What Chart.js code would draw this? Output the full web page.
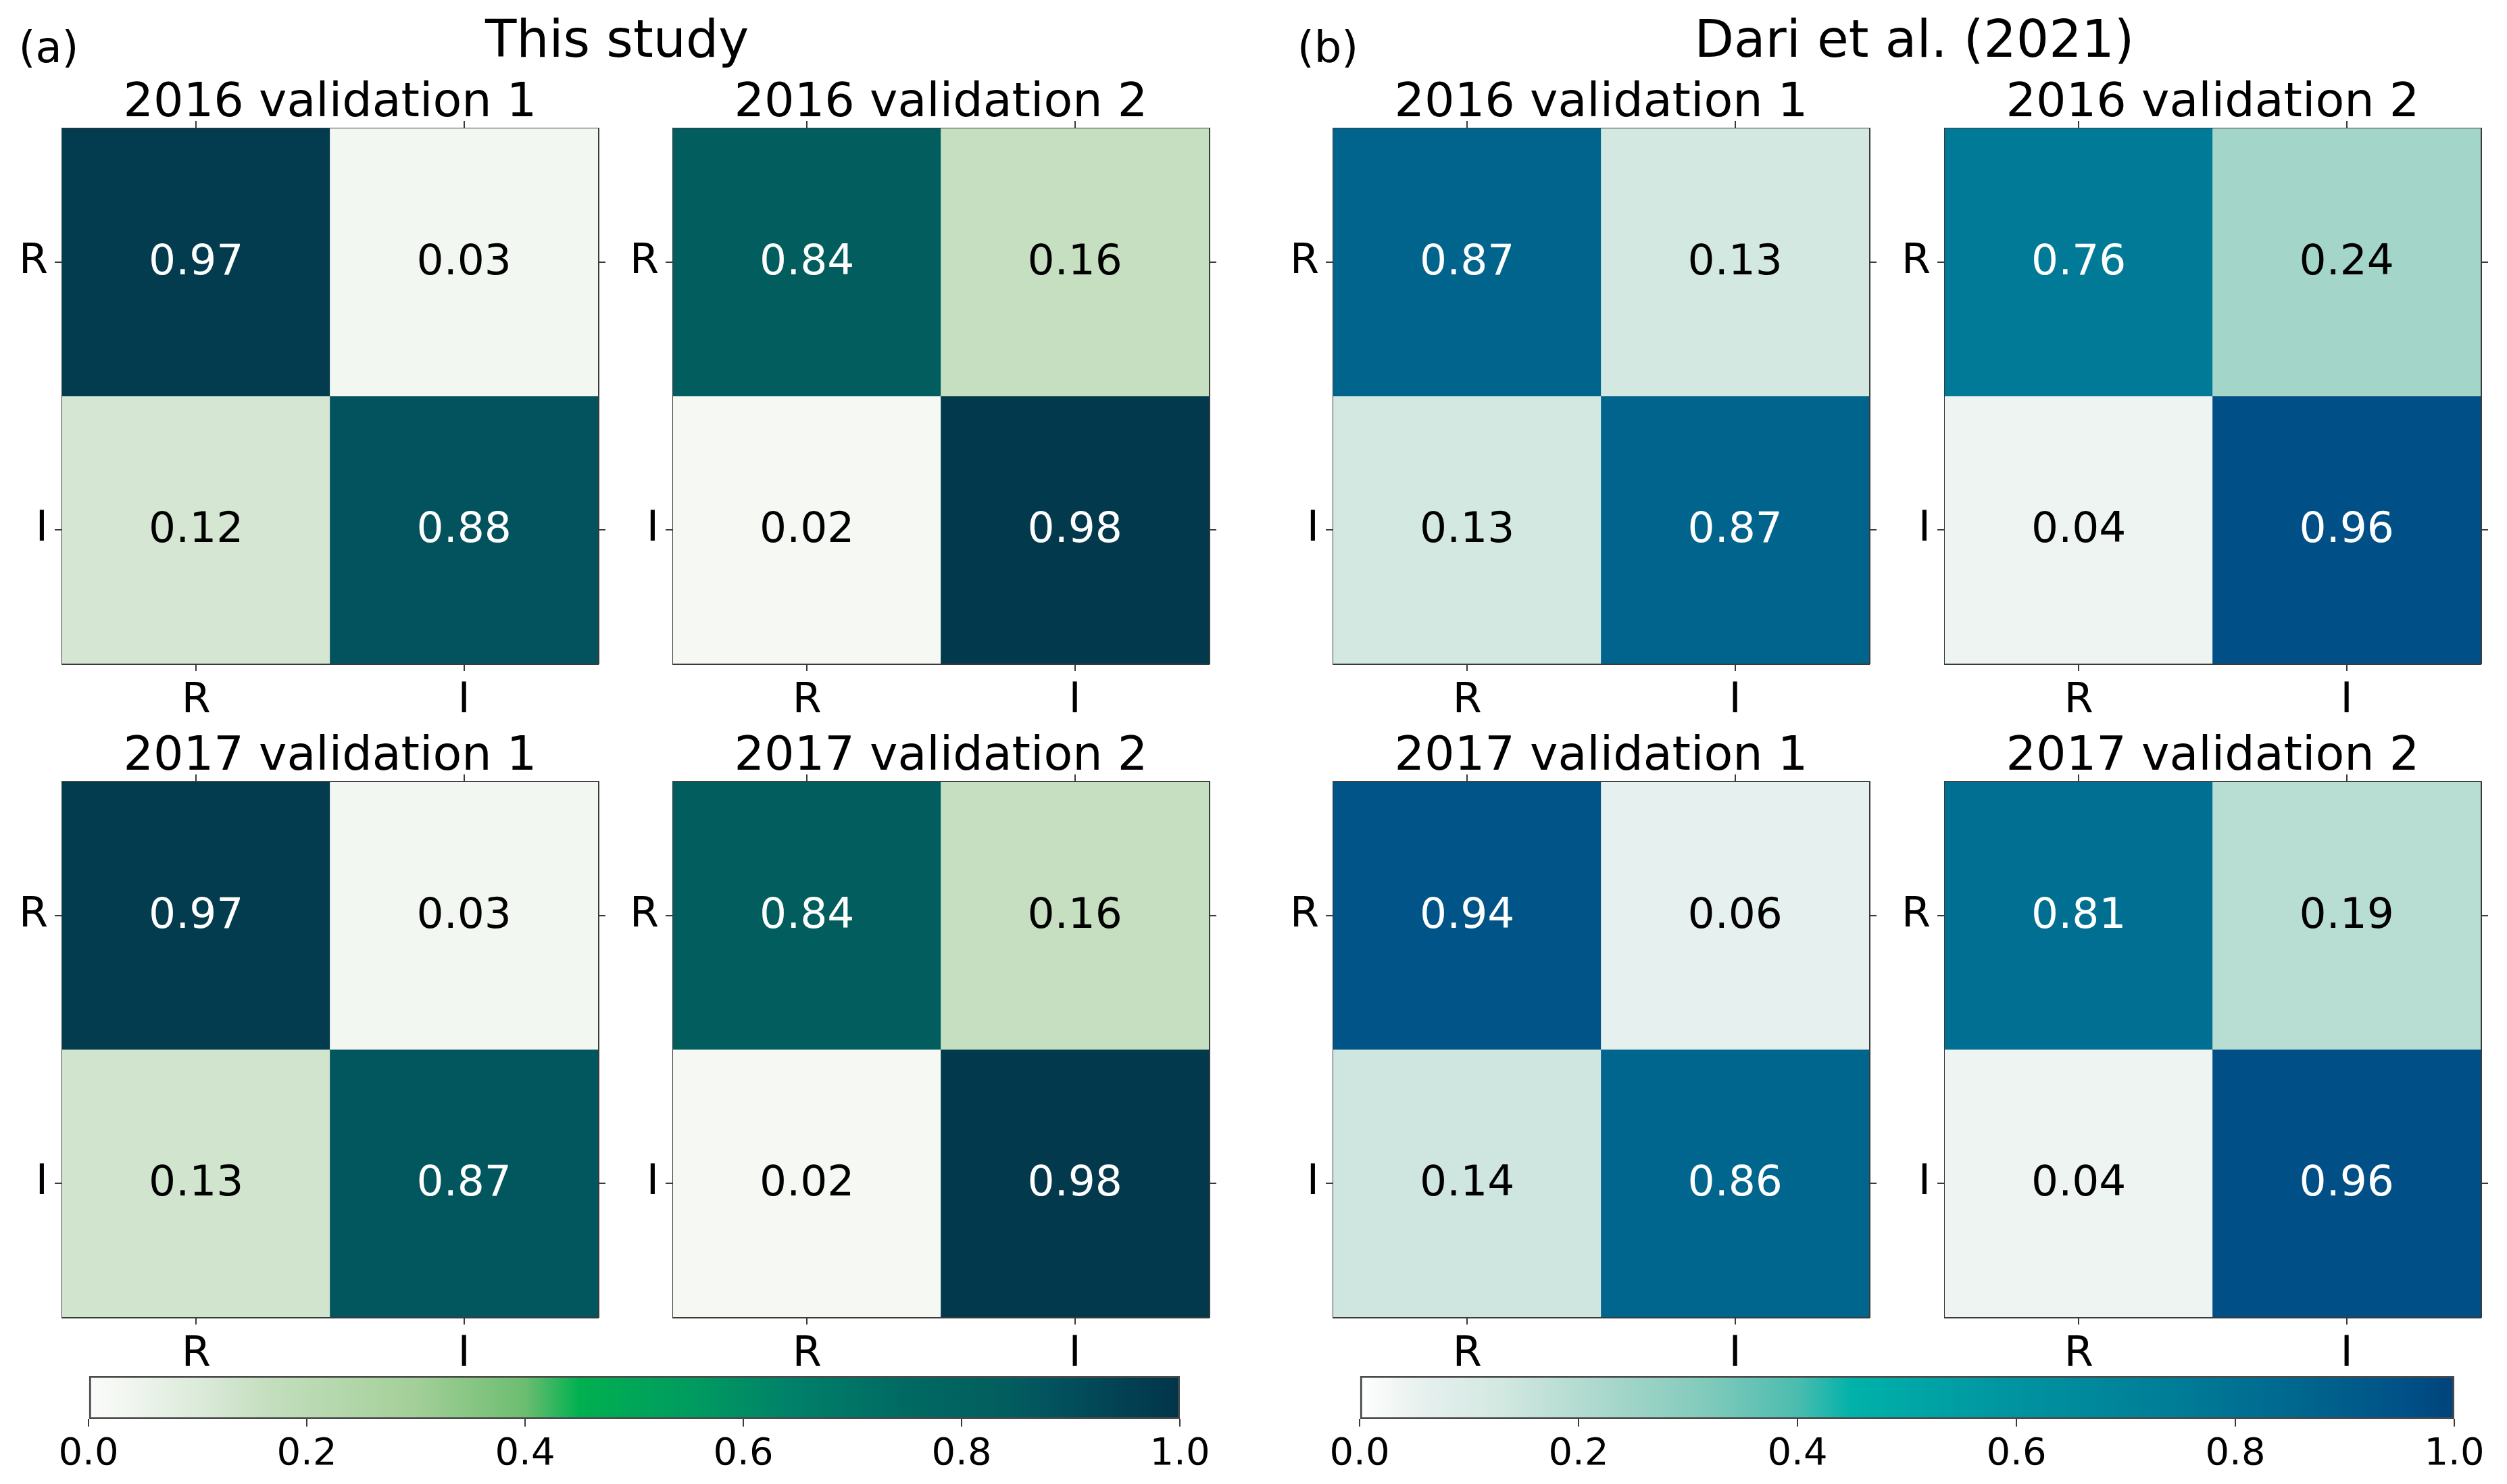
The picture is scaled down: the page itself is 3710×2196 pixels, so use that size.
<!DOCTYPE html>
<html>
<head>
<meta charset="utf-8">
<script src="https://cdn.jsdelivr.net/npm/chart.js@4.4.1/dist/chart.umd.min.js"></script>
<style>
  body { margin: 0; background: #fff; }
  #page { position: relative; width: 3710px; height: 2196px; background: #fff; font-family: "DejaVu Sans", sans-serif; color: #000; overflow: hidden; }
  #page canvas { position: absolute; }
  .t { position: absolute; white-space: nowrap; transform: translate(-50%, -50%); line-height: 1; }
</style>
</head>
<body>
<div id="page"></div>
<script>
// class names (rows = true, columns = predicted)
const classes = ['R', 'I'];

// (a) This study
const study2016v1 = [[0.97, 0.03], [0.12, 0.88]];
const study2016v2 = [[0.84, 0.16], [0.02, 0.98]];
const study2017v1 = [[0.97, 0.03], [0.13, 0.87]];
const study2017v2 = [[0.84, 0.16], [0.02, 0.98]];

// (b) Dari et al. (2021)
const dari2016v1 = [[0.87, 0.13], [0.13, 0.87]];
const dari2016v2 = [[0.76, 0.24], [0.04, 0.96]];
const dari2017v1 = [[0.94, 0.06], [0.14, 0.86]];
const dari2017v2 = [[0.81, 0.19], [0.04, 0.96]];

const colorbarTicks = [0, 0.2, 0.4, 0.6, 0.8, 1.0];

// colour maps
const greenMap = [
  [0.00, '#fbfbf9'], [0.03, '#f3f7f2'], [0.12, '#d5e7d3'], [0.16, '#c5dfc0'],
  [0.30, '#a3cf98'], [0.40, '#6cbd70'], [0.45, '#00b050'], [0.55, '#009c5f'],
  [0.65, '#007f69'], [0.75, '#006962'], [0.84, '#025e5e'], [0.88, '#02535e'],
  [0.97, '#023c4e'], [1.00, '#02344a']
];
const blueMap = [
  [0.00, '#ffffff'], [0.04, '#eef4f2'], [0.06, '#e6f0ee'], [0.13, '#d2e8e1'],
  [0.19, '#b8ddd3'], [0.24, '#a3d5c9'], [0.32, '#7fcabb'], [0.40, '#4bbcaf'],
  [0.45, '#00b2a9'], [0.60, '#0093a0'], [0.76, '#007a96'], [0.81, '#006f92'],
  [0.87, '#00648d'], [0.94, '#005488'], [0.96, '#004f87'], [1.00, '#00437a']
];

const FONT = '"DejaVu Sans", sans-serif';
const page = document.getElementById('page');

function hexRgb(h) {
  return [parseInt(h.slice(1, 3), 16), parseInt(h.slice(3, 5), 16), parseInt(h.slice(5, 7), 16)];
}
function colorAt(map, v) {
  for (let i = 1; i < map.length; i++) {
    if (v <= map[i][0]) {
      const [p0, c0] = map[i - 1], [p1, c1] = map[i];
      const f = (v - p0) / (p1 - p0);
      const a = hexRgb(c0), b = hexRgb(c1);
      return 'rgb(' + a.map((x, k) => Math.round(x + (b[k] - x) * f)).join(',') + ')';
    }
  }
  return map[map.length - 1][1];
}

function addText(txt, x, y, size) {
  const d = document.createElement('div');
  d.className = 't';
  d.textContent = txt;
  d.style.left = x + 'px';
  d.style.top = y + 'px';
  d.style.fontSize = size + 'px';
  page.appendChild(d);
}

function addCanvas(left, top, w, h) {
  const c = document.createElement('canvas');
  c.width = w; c.height = h;
  c.style.left = left + 'px'; c.style.top = top + 'px';
  c.style.width = w + 'px'; c.style.height = h + 'px';
  page.appendChild(c);
  return c;
}

// writes the value in each cell
const cellText = {
  id: 'cellText',
  afterDatasetsDraw(chart) {
    const ctx = chart.ctx;
    ctx.save();
    ctx.font = '63px ' + FONT;
    ctx.textAlign = 'center';
    ctx.textBaseline = 'middle';
    chart.data.datasets.forEach((ds, i) => {
      chart.getDatasetMeta(i).data.forEach((bar, j) => {
        const v = ds.values[j];
        const p = bar.getCenterPoint();
        ctx.fillStyle = v > 0.5 ? '#ffffff' : '#000000';
        ctx.fillText(v.toFixed(2), p.x, p.y + 2);
      });
    });
    ctx.restore();
  }
};

// room around each plot area for axes (top must hold half a y label)
const PAD = { left: 90, right: 26, top: 60, bottom: 100 };
const frame = { display: true, color: '#3a3a3a', width: 3 };
const tickGrid = { display: true, drawOnChartArea: false, drawTicks: true, tickLength: 11, color: '#3a3a3a', lineWidth: 2, offset: false };
const tickFont = { family: FONT, size: 62 };

function heatmap(left, top, w, h, matrix, map) {
  const canvas = addCanvas(left - PAD.left, top - PAD.top, w + PAD.left + PAD.right, h + PAD.top + PAD.bottom);
  const datasets = classes.map((rowName, r) => ({
    label: rowName,
    data: classes.map(() => [r - 0.5, r + 0.5]),
    values: matrix[r],
    backgroundColor: matrix[r].map(v => colorAt(map, v)),
    borderWidth: 0,
    categoryPercentage: 1,
    barPercentage: 1,
    grouped: false
  }));
  new Chart(canvas, {
    type: 'bar',
    data: { labels: classes, datasets },
    options: {
      responsive: false,
      animation: false,
      devicePixelRatio: 1,
      layout: { padding: 0 },
      plugins: { legend: { display: false }, tooltip: { enabled: false } },
      scales: {
        x: {
          position: 'bottom', offset: true, grid: tickGrid, border: frame,
          ticks: { font: tickFont, color: '#000', padding: 8, maxRotation: 0 },
          afterFit: s => { s.height = PAD.bottom; }
        },
        x2: {
          type: 'category', labels: classes, position: 'top', offset: true, grid: tickGrid, border: frame,
          ticks: { display: false },
          afterFit: s => { s.height = PAD.top; }
        },
        y: {
          type: 'linear', min: -0.5, max: 1.5, reverse: true, grid: tickGrid, border: frame,
          afterBuildTicks: s => { s.ticks = classes.map((c, i) => ({ value: i })); },
          ticks: { font: tickFont, color: '#000', padding: 10, callback: v => classes[v] },
          afterFit: s => { s.width = PAD.left; }
        },
        y2: {
          type: 'linear', position: 'right', min: -0.5, max: 1.5, reverse: true, grid: tickGrid, border: frame,
          afterBuildTicks: s => { s.ticks = classes.map((c, i) => ({ value: i })); },
          ticks: { display: false },
          afterFit: s => { s.width = PAD.right; }
        }
      }
    },
    plugins: [cellText]
  });
}

function colorbar(left, top, w, h, map) {
  const padX = 80, padBottom = 110;
  const canvas = addCanvas(left - padX, top - 4, w + 2 * padX, h + 4 + padBottom);
  new Chart(canvas, {
    type: 'bar',
    data: {
      labels: [''],
      datasets: [{
        data: [[0, 1]],
        backgroundColor: c => {
          const area = c.chart.chartArea;
          if (!area) return null;
          const g = c.chart.ctx.createLinearGradient(area.left, 0, area.right, 0);
          map.forEach(([p, col]) => g.addColorStop(p, col));
          return g;
        },
        borderColor: '#4a4a4a',
        borderWidth: 3,
        borderSkipped: false,
        categoryPercentage: 1,
        barPercentage: 1
      }]
    },
    options: {
      indexAxis: 'y',
      responsive: false,
      animation: false,
      devicePixelRatio: 1,
      layout: { padding: { left: padX, right: padX, top: 4, bottom: 0 } },
      plugins: { legend: { display: false }, tooltip: { enabled: false } },
      scales: {
        x: {
          type: 'linear', min: 0, max: 1,
          afterBuildTicks: s => { s.ticks = colorbarTicks.map(v => ({ value: v })); },
          ticks: { font: { family: FONT, size: 56 }, color: '#000', padding: 8, maxRotation: 0, callback: v => v.toFixed(1) },
          grid: { display: true, drawOnChartArea: false, drawTicks: true, tickLength: 11, color: '#3a3a3a', lineWidth: 2 },
          border: { display: false },
          afterFit: s => { s.height = padBottom; }
        },
        y: { display: false }
      }
    }
  });
}

// panel geometry (plot areas, in page pixels)
const W = 793, H = 792;
const rowTop = [190, 1157];
const colLeft = [92, 996, 1973, 2878];

const panels = [
  [study2016v1, 0, 0, greenMap, '2016 validation 1'],
  [study2016v2, 1, 0, greenMap, '2016 validation 2'],
  [study2017v1, 0, 1, greenMap, '2017 validation 1'],
  [study2017v2, 1, 1, greenMap, '2017 validation 2'],
  [dari2016v1, 2, 0, blueMap, '2016 validation 1'],
  [dari2016v2, 3, 0, blueMap, '2016 validation 2'],
  [dari2017v1, 2, 1, blueMap, '2017 validation 1'],
  [dari2017v2, 3, 1, blueMap, '2017 validation 2']
];

panels.forEach(([m, c, r, map, title]) => {
  heatmap(colLeft[c], rowTop[r], W, H, m, map);
  addText(title, colLeft[c] + W / 2, rowTop[r] - 42, 70);
});

addText('(a)', 72, 70, 64);
addText('(b)', 1965, 70, 64);
addText('This study', 913, 58, 76);
addText('Dari et al. (2021)', 2833, 58, 76);

colorbar(131, 2036, 1615, 64, greenMap);
colorbar(2012, 2036, 1620, 64, blueMap);
</script>
</body>
</html>
